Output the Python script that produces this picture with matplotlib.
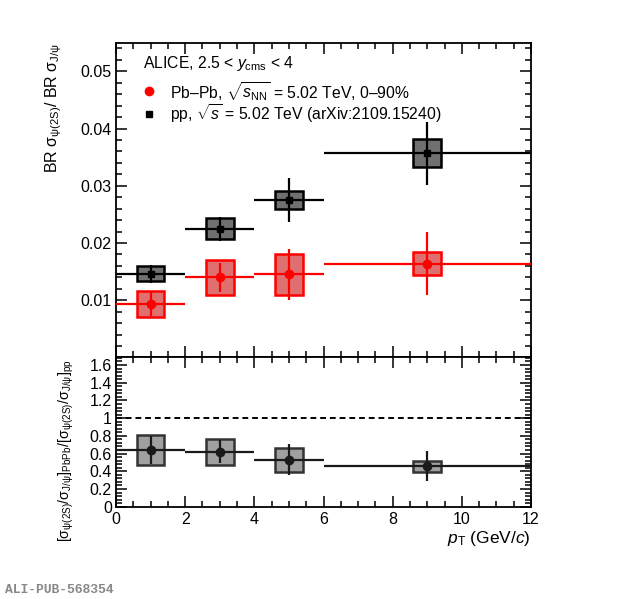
import numpy as np
import matplotlib
matplotlib.use('Agg')
import matplotlib.pyplot as plt
from matplotlib.ticker import MultipleLocator

plt.rcParams['font.family'] = ['Liberation Sans', 'DejaVu Sans']
plt.rcParams['mathtext.fontset'] = 'custom'
plt.rcParams['mathtext.rm'] = 'Liberation Sans'
plt.rcParams['mathtext.it'] = 'Liberation Sans:italic'
plt.rcParams['mathtext.bf'] = 'Liberation Sans:bold'
plt.rcParams['mathtext.sf'] = 'Liberation Sans'

# pT bins (GeV/c)
pt_center = np.array([1.0, 3.0, 5.0, 9.0])
pt_low = np.array([0.0, 2.0, 4.0, 6.0])
pt_high = np.array([2.0, 4.0, 6.0, 12.0])

# psi(2S)/J/psi ratio, Pb-Pb 0-90%
pbpb_val = np.array([0.0094, 0.0140, 0.0145, 0.0164])
pbpb_stat = np.array([0.0022, 0.0025, 0.0044, 0.0055])
pbpb_syst = np.array([0.0023, 0.0031, 0.0035, 0.0020])

# psi(2S)/J/psi ratio, pp (arXiv:2109.15240)
pp_val = np.array([0.0146, 0.0225, 0.0275, 0.0357])
pp_stat = np.array([0.0016, 0.0021, 0.0038, 0.0055])
pp_syst = np.array([0.0013, 0.0018, 0.0016, 0.0024])

# double ratio PbPb / pp
dr_val = np.array([0.64, 0.62, 0.53, 0.455])
dr_stat = np.array([0.156, 0.13, 0.175, 0.17])
dr_syst = np.array([0.167, 0.145, 0.135, 0.065])

box_w = 0.8

fig = plt.figure(figsize=(6.2, 5.99), dpi=100)
ax = fig.add_axes([0.1871, 0.4032, 0.6694, 0.5255])
axr = fig.add_axes([0.1871, 0.1541, 0.6694, 0.2491], sharex=ax)

xerr = [pt_center - pt_low, pt_high - pt_center]

# top panel: syst boxes, then stat bars + bin widths
ax.bar(pt_center, 2 * pp_syst, bottom=pp_val - pp_syst, width=box_w,
       color='#707070', edgecolor='black', linewidth=1.8, zorder=2)
ax.bar(pt_center, 2 * pbpb_syst, bottom=pbpb_val - pbpb_syst, width=box_w,
       color='#e07070', edgecolor='#ff0000', linewidth=1.8, zorder=2)
ax.errorbar(pt_center, pp_val, xerr=xerr, yerr=pp_stat, fmt='s', color='black',
            ms=5, elinewidth=1.6, capsize=0, zorder=3)
ax.errorbar(pt_center, pbpb_val, xerr=xerr, yerr=pbpb_stat, fmt='o', color='#ff0000',
            ms=6, elinewidth=1.6, capsize=0, zorder=3)

ax.set_xlim(0, 12)
ax.set_ylim(0, 0.055)
ax.yaxis.set_minor_locator(MultipleLocator(0.002))
ax.set_yticks([0.01, 0.02, 0.03, 0.04, 0.05])
ax.set_yticklabels(['0.01', '0.02', '0.03', '0.04', '0.05'])
ax.xaxis.set_major_locator(MultipleLocator(2))
ax.xaxis.set_minor_locator(MultipleLocator(0.5))
ax.tick_params(labelbottom=False)

# legend-like text block
ax.text(0.065, 0.935, r'ALICE, 2.5 < $y_{\mathrm{cms}}$ < 4', transform=ax.transAxes,
        fontsize=11.3, va='center')
ax.plot([0.08], [0.845], 'o', color='#ff0000', ms=6, transform=ax.transAxes)
ax.text(0.13, 0.845, r'Pb–Pb, $\sqrt{s_{\mathrm{NN}}}$ = 5.02 TeV, 0–90%',
        transform=ax.transAxes, fontsize=11.3, va='center')
ax.plot([0.08], [0.774], 's', color='black', ms=5, transform=ax.transAxes)
ax.text(0.13, 0.774, r'pp, $\sqrt{s}$ = 5.02 TeV (arXiv:2109.15240)',
        transform=ax.transAxes, fontsize=11.3, va='center')

# bottom panel
axr.bar(pt_center, 2 * dr_syst, bottom=dr_val - dr_syst, width=box_w,
        color='#a0a0a0', edgecolor='#333333', linewidth=1.8, zorder=2)
axr.errorbar(pt_center, dr_val, xerr=xerr, yerr=dr_stat, fmt='o', color='#1a1a1a',
             ms=6, elinewidth=1.6, capsize=0, zorder=3)
axr.axhline(1.0, color='black', linestyle=(0, (3, 2)), linewidth=1.4, zorder=1)

axr.set_ylim(0, 1.685)
axr.yaxis.set_minor_locator(MultipleLocator(0.04))
axr.set_yticks([0, 0.2, 0.4, 0.6, 0.8, 1.0, 1.2, 1.4, 1.6])
axr.set_yticklabels(['0', '0.2', '0.4', '0.6', '0.8', '1', '1.2', '1.4', '1.6'])
axr.set_xticks([0, 2, 4, 6, 8, 10, 12])
axr.set_xticklabels(['0', '2', '4', '6', '8', '10', '12'])

for a in (ax, axr):
    for s in a.spines.values():
        s.set_linewidth(1.3)
    a.tick_params(which='both', direction='in', top=True, right=True,
                  width=1.1, labelsize=11.5, pad=3)
    a.tick_params(which='major', length=8)
    a.tick_params(which='minor', length=4)

axr.tick_params(axis='x', which='major', pad=4)

fig.text(54 / 620, 1 - 43 / 599,
         r'BR $\mathrm{σ}_{\mathrm{ψ(2S)}}$/ BR $\mathrm{σ}_{\mathrm{J/ψ}}$',
         rotation=90, ha='center', va='top', fontsize=11.5)
fig.text(66 / 620, 1 - 359 / 599,
         r'[$\mathrm{σ}_{\mathrm{ψ(2S)}}$/$\mathrm{σ}_{\mathrm{J/ψ}}$]$_{\mathrm{PbPb}}$'
         r'/[$\mathrm{σ}_{\mathrm{ψ(2S)}}$/$\mathrm{σ}_{\mathrm{J/ψ}}$]$_{\mathrm{pp}}$',
         rotation=90, ha='center', va='top', fontsize=10.2)
fig.text(531 / 620, 1 - 538 / 599, r'$p_{\mathrm{T}}$ (GeV/$c$)',
         ha='right', va='center', fontsize=12.5)
fig.text(5 / 620, 1 - 590 / 599, 'ALI-PUB-568354', family='Liberation Mono',
         fontweight='bold', color='#888888', fontsize=9.4, va='center', ha='left')

fig.savefig('out.png', dpi=100)
